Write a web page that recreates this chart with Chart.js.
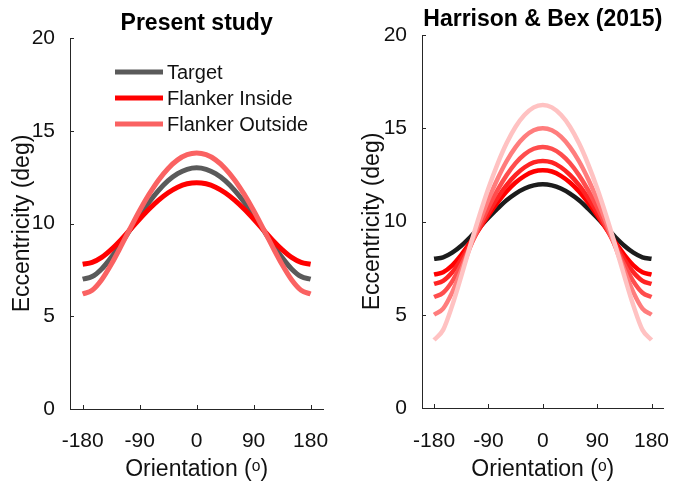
<!DOCTYPE html>
<html>
<head>
<meta charset="utf-8">
<script src="https://cdn.jsdelivr.net/npm/chart.js@4.4.1/dist/chart.umd.min.js"></script>
<style>
  html, body { margin: 0; padding: 0; background: #fff; }
  #wrap { position: relative; width: 683px; height: 483px; overflow: hidden; }
  .panel { position: absolute; top: 0; }
  #left { left: 0; }
  #right { left: 341px; }
</style>
</head>
<body>
<div id="wrap">
  <div class="panel" id="left"><canvas id="present-chart" width="341" height="483"></canvas></div>
  <div class="panel" id="right"><canvas id="hb-chart" width="342" height="483"></canvas></div>
</div>
<script>
const orientations = [-180, -165, -150, -135, -120, -105, -90, -75, -60, -45, -30, -15, 0,
  15, 30, 45, 60, 75, 90, 105, 120, 135, 150, 165, 180];
const xTickValues = [-180, -90, 0, 90, 180];
const yTickValues = [0, 5, 10, 15, 20];

// Present study
const targetEcc = [7.0, 7.14, 7.55, 8.16, 8.89, 9.67, 10.44, 11.16, 11.79, 12.31, 12.69, 12.92, 13.0,
  12.92, 12.69, 12.31, 11.79, 11.16, 10.44, 9.67, 8.89, 8.16, 7.55, 7.14, 7.0];
const flankerInside = [7.8, 7.9, 8.17, 8.59, 9.1, 9.67, 10.24, 10.78, 11.26, 11.66, 11.96, 12.14, 12.2,
  12.14, 11.96, 11.66, 11.26, 10.78, 10.24, 9.67, 9.1, 8.59, 8.17, 7.9, 7.8];
const flankerOutside = [6.2, 6.4, 6.97, 7.79, 8.74, 9.73, 10.7, 11.58, 12.35, 12.97, 13.43, 13.71, 13.8,
  13.71, 13.43, 12.97, 12.35, 11.58, 10.7, 9.73, 8.74, 7.79, 6.97, 6.4, 6.2];

// Harrison & Bex (2015)
const hbTarget = [8.0, 8.08, 8.33, 8.7, 9.17, 9.68, 10.2, 10.69, 11.14, 11.5, 11.77, 11.94, 12.0,
  11.94, 11.77, 11.5, 11.14, 10.69, 10.2, 9.68, 9.17, 8.7, 8.33, 8.08, 8.0];
const hbFlanker1 = [7.15, 7.28, 7.65, 8.21, 8.89, 9.61, 10.34, 11.01, 11.61, 12.09, 12.45, 12.68, 12.75,
  12.68, 12.45, 12.09, 11.61, 11.01, 10.34, 9.61, 8.89, 8.21, 7.65, 7.28, 7.15];
const hbFlanker2 = [6.65, 6.82, 7.28, 7.97, 8.78, 9.64, 10.48, 11.26, 11.95, 12.5, 12.91, 13.17, 13.25,
  13.17, 12.91, 12.5, 11.95, 11.26, 10.48, 9.64, 8.78, 7.97, 7.28, 6.82, 6.65];
const hbFlanker3 = [5.95, 6.18, 6.79, 7.68, 8.69, 9.74, 10.76, 11.68, 12.48, 13.13, 13.61, 13.9, 14.0,
  13.9, 13.61, 13.13, 12.48, 11.68, 10.76, 9.74, 8.69, 7.68, 6.79, 6.18, 5.95];
const hbFlanker4 = [5.0, 5.33, 6.2, 7.37, 8.66, 9.96, 11.18, 12.28, 13.23, 13.99, 14.55, 14.89, 15.0,
  14.89, 14.55, 13.99, 13.23, 12.28, 11.18, 9.96, 8.66, 7.37, 6.2, 5.33, 5.0];
const hbFlanker5 = [3.65, 4.19, 5.49, 7.07, 8.72, 10.31, 11.78, 13.08, 14.19, 15.08, 15.72, 16.12, 16.25,
  16.12, 15.72, 15.08, 14.19, 13.08, 11.78, 10.31, 8.72, 7.07, 5.49, 4.19, 3.65];

const FONT = '"Liberation Sans", Arial, sans-serif';
const axisColor = "#262626";
const textColor = "#111";

const toPoints = (vals) => orientations.map((o, i) => ({ x: o, y: vals[i] }));

// MATLAB style ticks pointing into the plot
const inwardTicks = {
  id: "inwardTicks",
  afterDatasetsDraw(chart) {
    const { ctx, scales: { x, y } } = chart;
    ctx.save();
    ctx.strokeStyle = axisColor;
    ctx.lineWidth = 1;
    ctx.beginPath();
    x.ticks.forEach((t) => {
      const px = Math.round(x.getPixelForValue(t.value)) + 0.5;
      ctx.moveTo(px, y.bottom);
      ctx.lineTo(px, y.bottom - 4);
    });
    y.ticks.forEach((t) => {
      const py = Math.round(y.getPixelForValue(t.value)) + 0.5;
      ctx.moveTo(x.left, py);
      ctx.lineTo(x.left + 4, py);
    });
    ctx.stroke();
    ctx.restore();
  },
};

// legend drawn inside the axes, like the matlab one
const insideLegend = {
  id: "insideLegend",
  afterDraw(chart, args, opts) {
    if (!opts.show) return;
    const { ctx } = chart;
    ctx.save();
    ctx.font = "20px " + FONT;
    ctx.textBaseline = "middle";
    chart.data.datasets.forEach((ds, i) => {
      const yy = opts.top + i * opts.rowGap;
      ctx.strokeStyle = ds.borderColor;
      ctx.lineWidth = 5;
      ctx.beginPath();
      ctx.moveTo(opts.left, yy);
      ctx.lineTo(opts.left + opts.lineLen, yy);
      ctx.stroke();
      ctx.fillStyle = textColor;
      ctx.fillText(ds.label, opts.left + opts.lineLen + 4, yy + 1);
    });
    ctx.restore();
  },
};

function makeOptions(cfg) {
  return {
    responsive: false,
    animation: false,
    devicePixelRatio: 1,
    layout: { padding: { left: 0, right: cfg.padRight, top: 0, bottom: 0 } },
    elements: { point: { radius: 0 } },
    plugins: {
      legend: { display: false },
      tooltip: { enabled: false },
      title: {
        display: true,
        text: cfg.title,
        fullSize: false,
        color: "#000",
        font: { family: FONT, size: 23, weight: "bold" },
        padding: { top: cfg.titleTop, bottom: cfg.plotTop - 27.6 - cfg.titleTop },
      },
      insideLegend: cfg.legend || { show: false },
    },
    scales: {
      x: {
        type: "linear",
        min: -200,
        max: 200,
        grid: { display: false },
        border: { display: true, color: axisColor, width: 1 },
        afterBuildTicks: (scale) => {
          scale.ticks = xTickValues.map((v) => ({ value: v }));
        },
        afterFit: (scale) => {
          scale.height = 483 - cfg.plotBottom;
        },
        ticks: {
          color: textColor,
          padding: cfg.xTickPad,
          maxRotation: 0,
          font: { family: FONT, size: 21 },
        },
        title: {
          display: true,
          text: "Orientation (ᵒ)",
          color: textColor,
          font: { family: FONT, size: 23 },
          padding: { top: 0, bottom: 0 },
        },
      },
      y: {
        type: "linear",
        min: 0,
        max: 20,
        grid: { display: false },
        border: { display: true, color: axisColor, width: 1 },
        afterBuildTicks: (scale) => {
          scale.ticks = yTickValues.map((v) => ({ value: v }));
        },
        afterFit: (scale) => {
          scale.width = cfg.plotLeft;
        },
        ticks: {
          color: textColor,
          padding: 7,
          font: { family: FONT, size: 21 },
        },
        title: {
          display: true,
          text: "Eccentricity (deg)",
          color: textColor,
          font: { family: FONT, size: 23 },
          padding: { top: cfg.yTitlePad, bottom: 0 },
        },
      },
    },
  };
}

const line = (label, vals, color, width, order) => ({
  label: label,
  data: toPoints(vals),
  borderColor: color,
  borderWidth: width,
  cubicInterpolationMode: "monotone",
  fill: false,
  order: order,
});

new Chart(document.getElementById("present-chart"), {
  type: "line",
  data: {
    datasets: [
      line("Target", targetEcc, "#5a5a5a", 5, 3),
      line("Flanker Inside", flankerInside, "#ff0000", 5, 2),
      line("Flanker Outside", flankerOutside, "#fa6262", 5, 1),
    ],
  },
  options: makeOptions({
    title: "Present study",
    padRight: 14,
    plotLeft: 70,
    plotTop: 38,
    plotBottom: 409,
    titleTop: 10,
    xTickPad: 12,
    yTitlePad: 9,
    legend: { show: true, left: 115, top: 72, rowGap: 26, lineLen: 48 },
  }),
  plugins: [inwardTicks, insideLegend],
});

new Chart(document.getElementById("hb-chart"), {
  type: "line",
  data: {
    datasets: [
      line("Target", hbTarget, "#1c1c1c", 4.5, 6),
      line("Flanker 1", hbFlanker1, "#ff0000", 4.5, 5),
      line("Flanker 2", hbFlanker2, "#ff2424", 4.5, 4),
      line("Flanker 3", hbFlanker3, "#ff4d4d", 4.5, 3),
      line("Flanker 4", hbFlanker4, "#ff7d7d", 4.5, 2),
      line("Flanker 5", hbFlanker5, "#ffc2c2", 4.5, 1),
    ],
  },
  options: makeOptions({
    title: "Harrison & Bex (2015)",
    padRight: 5,
    plotLeft: 81,
    plotTop: 35,
    plotBottom: 408,
    titleTop: 6,
    xTickPad: 13,
    yTitlePad: 18,
  }),
  plugins: [inwardTicks, insideLegend],
});
</script>
</body>
</html>
